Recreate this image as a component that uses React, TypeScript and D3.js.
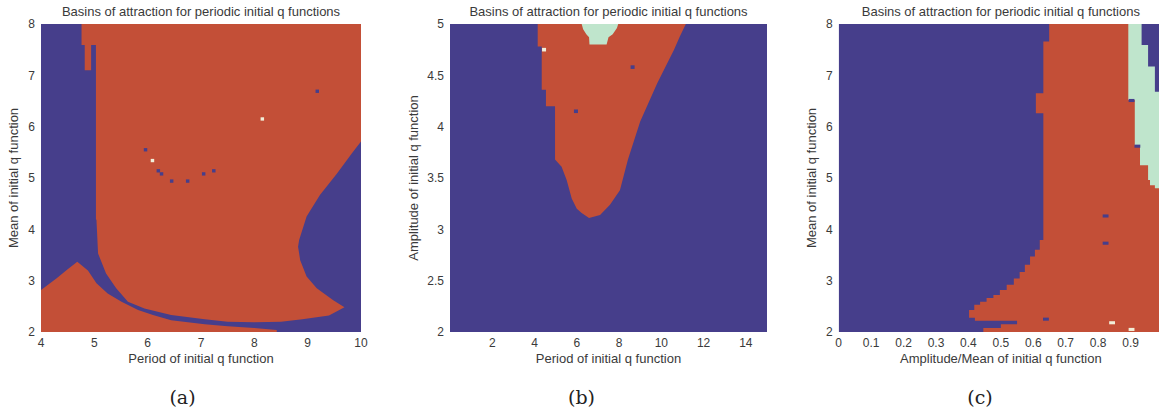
import React from "react";
import * as d3 from "d3";

type Pt = [number, number];

const BLUE = "#463e8b";
const RED = "#c34f37";
const GREEN = "#bfe5cc";
const PALE = "#f1efd9";
const TXT = "#3a3a3a";

const TITLE = "Basins of attraction for periodic initial q functions";

// ---------- Panel (a) ----------
const aXTicks = [4, 5, 6, 7, 8, 9, 10];
const aYTicks = [2, 3, 4, 5, 6, 7, 8];
const aLowerRed: Pt[] = [
  [4, 2], [4, 2.82], [4.3, 3.05], [4.5, 3.22], [4.68, 3.37], [4.88, 3.2], [5.04, 2.95],
  [5.25, 2.75], [5.51, 2.59], [5.82, 2.43], [6.1, 2.33], [6.44, 2.23], [7.07, 2.15],
  [7.5, 2.11], [8.0, 2.08], [8.42, 2.04], [8.42, 2],
];
const aMainRed: Pt[] = [
  [4.76, 8], [4.76, 7.59], [4.82, 7.59], [4.82, 7.1], [4.94, 7.1], [4.94, 7.59], [5.03, 7.59],
  [5.03, 4.2], [5.04, 4.18], [5.07, 3.53], [5.22, 3.14], [5.41, 2.85], [5.63, 2.59],
  [5.94, 2.46], [6.44, 2.33], [7.07, 2.25], [7.5, 2.2], [8.0, 2.19], [8.5, 2.2],
  [8.9, 2.25], [9.4, 2.32], [9.69, 2.48], [9.48, 2.62], [9.17, 2.85], [8.98, 3.08],
  [8.86, 3.4], [8.82, 3.66], [8.84, 3.79], [8.98, 4.25], [9.23, 4.67], [9.55, 5.09],
  [9.83, 5.48], [10, 5.71], [10, 8],
];
const aBlueDots: Pt[] = [
  [5.96, 5.55], [6.2, 5.14], [6.26, 5.08], [6.45, 4.94], [6.75, 4.94], [7.05, 5.08],
  [7.24, 5.14], [9.18, 6.69],
];
const aPaleDots: Pt[] = [[6.09, 5.34], [8.15, 6.15]];

// ---------- Panel (b) ----------
const bXTicks = [2, 4, 6, 8, 10, 12, 14];
const bYTicks = [2, 2.5, 3, 3.5, 4, 4.5, 5];
const bRed: Pt[] = [
  [4.15, 5], [4.15, 4.78], [4.34, 4.78], [4.34, 4.36], [4.54, 4.36], [4.54, 4.2],
  [4.97, 4.2], [4.97, 3.68], [5.28, 3.61], [5.52, 3.48], [5.76, 3.3], [6.0, 3.2],
  [6.23, 3.16], [6.58, 3.11], [7.1, 3.14], [7.57, 3.24], [8.04, 3.38], [8.42, 3.68],
  [9.0, 4.05], [9.8, 4.42], [10.6, 4.75], [10.88, 4.88], [11.16, 5],
];
const bGreen: Pt[] = [
  [6.23, 5], [6.3, 4.95], [6.45, 4.9], [6.58, 4.87], [6.6, 4.8], [7.41, 4.8],
  [7.5, 4.87], [7.7, 4.9], [7.9, 4.96], [7.96, 5],
];
const bBlueDots: Pt[] = [[8.64, 4.58], [5.96, 4.15]];
const bPaleDots: Pt[] = [[4.45, 4.75]];

// ---------- Panel (c) ----------
const cXTicks = [0, 0.1, 0.2, 0.3, 0.4, 0.5, 0.6, 0.7, 0.8, 0.9];
const cYTicks = [2, 3, 4, 5, 6, 7, 8];
const cRedEdgeTop = [8, 7.66, 6.65, 6.26, 3.79, 3.6, 3.47, 3.31, 3.17, 3.04, 2.92, 2.82, 2.72, 2.66, 2.59, 2.53, 2.43, 2.28, 2.22, 2.15, 2.08];
const cRedEdgeX = [0.649, 0.631, 0.608, 0.631, 0.62, 0.605, 0.59, 0.574, 0.558, 0.54, 0.518, 0.497, 0.477, 0.456, 0.436, 0.418, 0.402, 0.42, 0.55, 0.5, 0.446];
const cGreenEdgeTop = [8, 6.52, 5.64, 5.25, 4.96, 4.86];
const cGreenEdgeX = [0.893, 0.913, 0.929, 0.954, 0.96, 0.975];
const cGreenBottom = 4.8;
const cBlueEdgeTop = [8, 7.59, 7.17];
const cBlueEdgeX = [0.934, 0.954, 0.975];
const cBlueBottom = 6.68;
const cBlueDots: Pt[] = [[0.903, 6.51], [0.921, 5.62], [0.823, 4.26], [0.823, 3.73], [0.639, 2.25]];
const cPaleDots: Pt[] = [[0.843, 2.18], [0.903, 2.05]];

function stairs(tops: number[], xs: number[], bottom: number, right: number): Pt[] {
  const pts: Pt[] = [];
  tops.forEach((t, i) => {
    const b = i < tops.length - 1 ? tops[i + 1] : bottom;
    pts.push([xs[i], t]);
    pts.push([xs[i], b]);
  });
  pts.push([right, bottom]);
  pts.push([right, tops[0]]);
  return pts;
}

type Poly = { pts: Pt[]; fill: string };
type Dots = { pts: Pt[]; fill: string; w: number; h: number };

interface PanelProps {
  x0: number; x1: number; y0: number; y1: number;
  xDomain: [number, number]; yDomain: [number, number];
  xTicks: number[]; yTicks: number[];
  polys: Poly[]; dots: Dots[];
  xLabel: string; yLabel: string; yLabelX: number;
  caption: string; captionX: number;
  clipId: string;
}

function Panel(p: PanelProps) {
  const xs = d3.scaleLinear().domain(p.xDomain).range([p.x0, p.x1]);
  const ys = d3.scaleLinear().domain(p.yDomain).range([p.y1, p.y0]);
  const line = d3.line<Pt>().x((d) => xs(d[0])).y((d) => ys(d[1]));
  const fmt = (v: number) => String(v);
  const cx = (p.x0 + p.x1) / 2;
  const cy = (p.y0 + p.y1) / 2;
  return (
    <g>
      <defs>
        <clipPath id={p.clipId}>
          <rect x={p.x0} y={p.y0} width={p.x1 - p.x0} height={p.y1 - p.y0} />
        </clipPath>
      </defs>
      <g clipPath={`url(#${p.clipId})`}>
        <rect x={p.x0} y={p.y0} width={p.x1 - p.x0} height={p.y1 - p.y0} fill={BLUE} />
        {p.polys.map((pl, i) => (
          <path key={i} d={(line(pl.pts) ?? "") + "Z"} fill={pl.fill} />
        ))}
        {p.dots.map((ds, i) =>
          ds.pts.map((d, j) => (
            <rect
              key={`${i}-${j}`}
              x={xs(d[0] - ds.w / 2)}
              y={ys(d[1] + ds.h / 2)}
              width={xs(d[0] + ds.w / 2) - xs(d[0] - ds.w / 2)}
              height={ys(d[1] - ds.h / 2) - ys(d[1] + ds.h / 2)}
              fill={ds.fill}
            />
          ))
        )}
      </g>
      <text x={cx} y={15.5} textAnchor="middle" fontSize={13} fill={TXT}>{TITLE}</text>
      {p.xTicks.map((t) => (
        <text key={t} x={xs(t)} y={347} textAnchor="middle" fontSize={12} fill={TXT}>{fmt(t)}</text>
      ))}
      {p.yTicks.map((t) => (
        <text key={t} x={p.x0 - 6} y={ys(t)} dy="0.35em" textAnchor="end" fontSize={12} fill={TXT}>{fmt(t)}</text>
      ))}
      <text x={cx} y={363} textAnchor="middle" fontSize={13} fill={TXT}>{p.xLabel}</text>
      <text transform={`translate(${p.yLabelX},${cy}) rotate(-90)`} dy="0.35em" textAnchor="middle" fontSize={13} fill={TXT}>{p.yLabel}</text>
      <text x={p.captionX} y={404} textAnchor="middle" fontSize={19} fontFamily="'DejaVu Serif', serif" fill="#222">{p.caption}</text>
    </g>
  );
}

export default function App() {
  const dotA = 0.065, dotAh = 0.065;
  return (
    <svg width={1159} height={413} style={{ position: "absolute", left: 0, top: 0, background: "#fff" }}
      fontFamily="'Liberation Sans', Arial, sans-serif">
      <rect width={1159} height={413} fill="#fff" />
      <Panel
        clipId="ca" x0={41} x1={361} y0={24} y1={332}
        xDomain={[4, 10]} yDomain={[2, 8]} xTicks={aXTicks} yTicks={aYTicks}
        polys={[{ pts: aLowerRed, fill: RED }, { pts: aMainRed, fill: RED }]}
        dots={[{ pts: aBlueDots, fill: BLUE, w: dotA, h: dotAh }, { pts: aPaleDots, fill: PALE, w: dotA, h: dotAh }]}
        xLabel="Period of initial q function" yLabel="Mean of initial q function" yLabelX={13.5}
        caption="(a)" captionX={182.5}
      />
      <Panel
        clipId="cb" x0={450} x1={767} y0={24} y1={332}
        xDomain={[0, 15]} yDomain={[2, 5]} xTicks={bXTicks} yTicks={bYTicks}
        polys={[{ pts: bRed, fill: RED }, { pts: bGreen, fill: GREEN }]}
        dots={[{ pts: bBlueDots, fill: BLUE, w: 0.19, h: 0.035 }, { pts: bPaleDots, fill: PALE, w: 0.19, h: 0.035 }]}
        xLabel="Period of initial q function" yLabel="Amplitude of initial q function" yLabelX={413}
        caption="(b)" captionX={581.5}
      />
      <Panel
        clipId="cc" x0={838.7} x1={1163} y0={24} y1={332}
        xDomain={[0, 1]} yDomain={[2, 8]} xTicks={cXTicks} yTicks={cYTicks}
        polys={[
          { pts: stairs(cRedEdgeTop, cRedEdgeX, 2, 1), fill: RED },
          { pts: stairs(cGreenEdgeTop, cGreenEdgeX, cGreenBottom, 1), fill: GREEN },
          { pts: stairs(cBlueEdgeTop, cBlueEdgeX, cBlueBottom, 1), fill: BLUE },
        ]}
        dots={[{ pts: cBlueDots, fill: BLUE, w: 0.018, h: 0.06 }, { pts: cPaleDots, fill: PALE, w: 0.018, h: 0.06 }]}
        xLabel="Amplitude/Mean of initial q function" yLabel="Mean of initial q function" yLabelX={811.5}
        caption="(c)" captionX={980}
      />
    </svg>
  );
}
